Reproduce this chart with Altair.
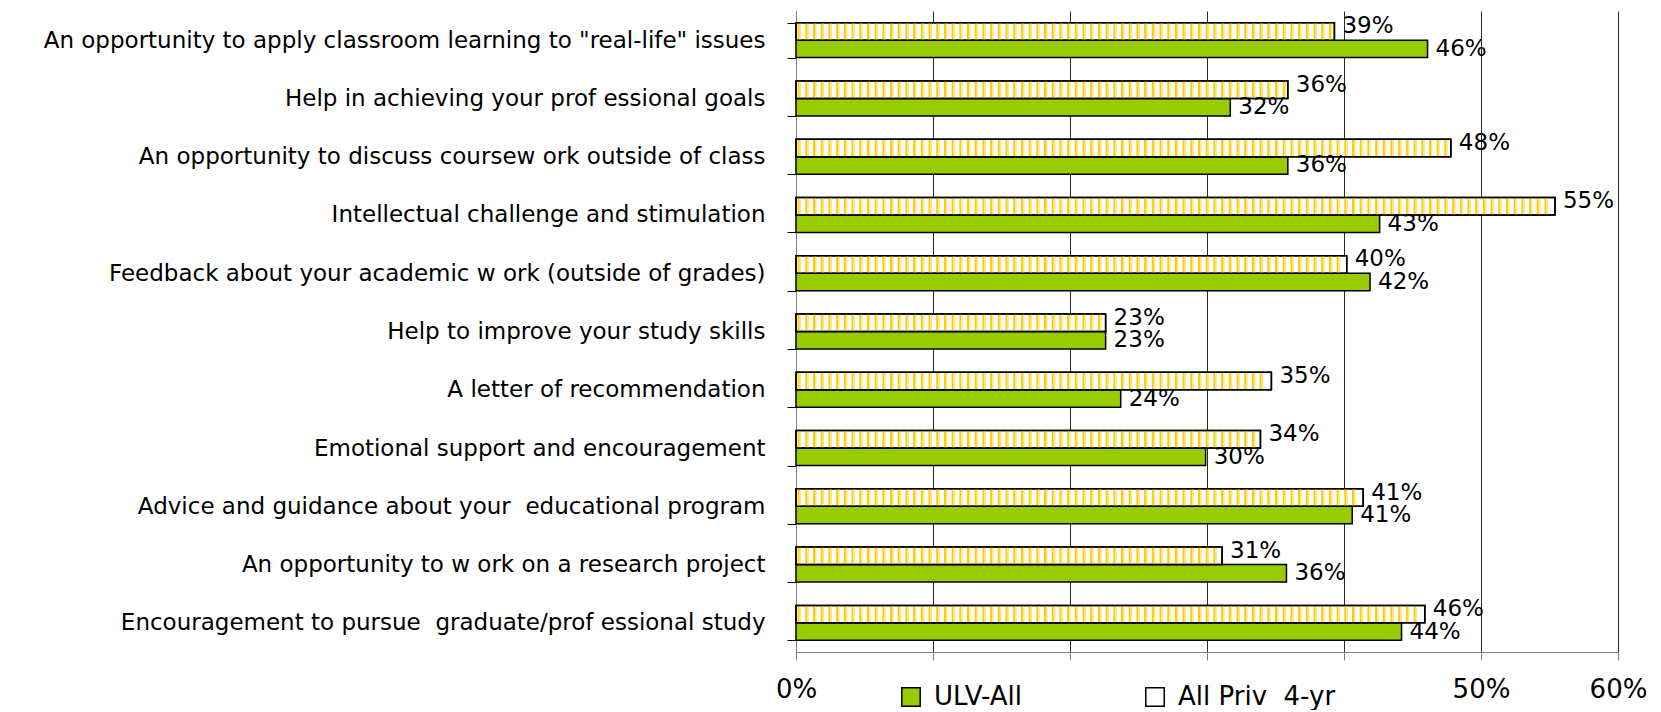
import altair as alt
import pandas as pd

categories = [
    'An opportunity to apply classroom learning to "real-life" issues',
    "Help in achieving your prof essional goals",
    "An opportunity to discuss coursew ork outside of class",
    "Intellectual challenge and stimulation",
    "Feedback about your academic w ork (outside of grades)",
    "Help to improve your study skills",
    "A letter of recommendation",
    "Emotional support and encouragement",
    "Advice and guidance about your\u00a0 educational program",
    "An opportunity to w ork on a research project",
    "Encouragement to pursue\u00a0 graduate/prof essional study",
]
ulv_all = [0.461, 0.317, 0.359, 0.426, 0.419, 0.226, 0.237, 0.299, 0.406, 0.358, 0.442]
all_priv = [0.393, 0.359, 0.478, 0.554, 0.402, 0.226, 0.347, 0.339, 0.414, 0.311, 0.459]
ULV = "ULV-All"
PRIV = "All Priv\u00a0 4-yr"
x_ticks = [0, 0.1, 0.2, 0.3, 0.4, 0.5, 0.6]

rows = []
for c, u, p in zip(categories, ulv_all, all_priv):
    rows.append({"category": c, "series": ULV, "value": u})
    rows.append({"category": c, "series": PRIV, "value": p})
df = pd.DataFrame(rows)

FONT = "DejaVu Sans"
xscale = alt.Scale(domain=[0, 0.6], nice=False)
xaxis = alt.Axis(
    values=x_ticks, format=".0%", title=None, grid=True, gridColor="#2a2a2a",
    gridWidth=1, tickSize=8, tickColor="#808080", domainColor="#808080",
    labelFont=FONT, labelFontSize=26, labelPadding=16, labelColor="black",
    labelFlush=False,
    labelExpr="(datum.value < 0.05 || datum.value > 0.45) ? datum.label : ''",
)
yscale = alt.Scale(paddingInner=0.4, paddingOuter=0.2)
yaxis = alt.Axis(
    title=None, labelFont=FONT, labelFontSize=23, labelLimit=1200,
    labelPadding=22, tickSize=9, tickBand="extent", tickColor="black",
    domainColor="#808080", labelColor="black",
)
yoff = alt.YOffset("series:N", scale=alt.Scale(domain=[PRIV, ULV], paddingInner=0, paddingOuter=0))


def Y():
    return alt.Y("category:N", sort=categories, scale=yscale, axis=yaxis)


base = alt.Chart(df)

bars = base.mark_bar(stroke="black", strokeWidth=1.5).encode(
    x=alt.X("value:Q", scale=xscale, axis=xaxis),
    y=Y(),
    yOffset=yoff,
    color=alt.Color(
        "series:N",
        scale=alt.Scale(domain=[ULV, PRIV], range=["#99CC00", "#FFFFFF"]),
        legend=alt.Legend(
            title=None, orient="none", legendX=102, legendY=673,
            direction="horizontal", symbolType="square", symbolSize=340,
            symbolStrokeColor="black", symbolStrokeWidth=1.5,
            labelFont=FONT, labelFontSize=26, labelColor="black",
            labelOffset=10, columnPadding=120, padding=0,
        ),
    ),
)

stripes = base.transform_filter(alt.datum.series == PRIV).transform_calculate(
    s="sequence(0.0012, datum.value - 0.003, 0.00562)"
).transform_flatten(["s"]).transform_calculate(
    s2="datum.s + 0.00146", p1="datum.s + 0.00146", p2="datum.s + 0.00256"
)

gold = stripes.mark_bar(color="#FFCC00").encode(
    x=alt.X("s:Q", scale=xscale, axis=xaxis), x2="s2:Q", y=Y(), yOffset=yoff
)
pale = stripes.mark_bar(color="#FFE680").encode(
    x=alt.X("p1:Q", scale=xscale, axis=xaxis), x2="p2:Q", y=Y(), yOffset=yoff
)

outline = base.transform_filter(alt.datum.series == PRIV).mark_bar(
    fillOpacity=0, stroke="black", strokeWidth=1.5
).encode(x=alt.X("value:Q", scale=xscale, axis=xaxis), y=Y(), yOffset=yoff)

txt_priv = base.transform_filter(alt.datum.series == PRIV).mark_text(
    align="left", baseline="middle", dx=8, dy=-5, font=FONT, fontSize=23, color="black"
).encode(
    x=alt.X("value:Q", scale=xscale, axis=xaxis), y=Y(), yOffset=yoff,
    text=alt.Text("value:Q", format=".0%"),
)
txt_ulv = base.transform_filter(alt.datum.series == ULV).mark_text(
    align="left", baseline="middle", dx=8, dy=0, font=FONT, fontSize=23, color="black"
).encode(
    x=alt.X("value:Q", scale=xscale, axis=xaxis), y=Y(), yOffset=yoff,
    text=alt.Text("value:Q", format=".0%"),
)

chart = alt.layer(bars, gold, pale, outline, txt_priv, txt_ulv).properties(
    width=822, height=641,
    autosize=alt.AutoSizeParams(type="none"),
    padding={"left": 788, "top": 3, "right": 30, "bottom": 58},
).configure_view(strokeWidth=0)

chart.save("out.html", embed_options={"renderer": "svg", "actions": False})
